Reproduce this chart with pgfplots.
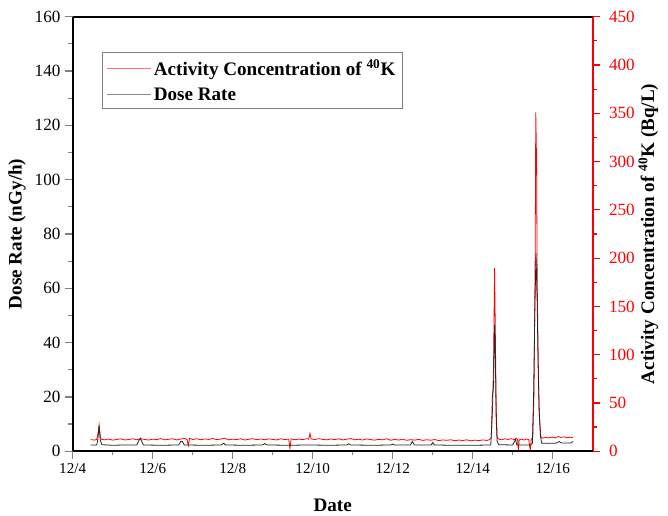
\documentclass[border=0pt]{standalone}
\usepackage{fontspec}
\setmainfont{Liberation Serif}
\usepackage{pgfplots}
\pgfplotsset{compat=1.18}

% activity concentration of 40K (Bq/L), day of December
\pgfplotstableread{
x act
4.45 12.0
4.55 11.6
4.60 12.3
4.63 18
4.66 27.5
4.69 15
4.72 12.4
4.80 11.8
4.90 12.6
5.00 11.5
5.10 12.2
5.20 12.8
5.30 11.7
5.40 12.1
5.50 12.9
5.60 11.9
5.70 13.0
5.80 12.2
5.90 11.6
6.00 12.5
6.10 12.0
6.20 13.1
6.30 11.8
6.40 12.4
6.50 12.9
6.60 11.7
6.70 12.6
6.80 13.3
6.86 12.0
6.89 6.0
6.92 13.4
7.00 12.1
7.10 13.0
7.20 11.9
7.30 12.7
7.40 12.2
7.50 13.2
7.60 12.0
7.70 12.6
7.80 13.4
7.90 11.8
8.00 12.5
8.10 12.1
8.20 12.9
8.30 11.6
8.40 12.4
8.50 13.0
8.60 12.0
8.70 12.7
8.80 11.9
8.90 12.8
9.00 12.2
9.10 11.7
9.20 12.9
9.30 12.1
9.40 12.5
9.43 3.0
9.46 12.8
9.55 11.9
9.65 12.6
9.75 12.0
9.85 13.0
9.90 12.4
9.93 18.5
9.96 12.8
10.05 12.1
10.15 13.0
10.25 12.3
10.35 11.8
10.45 12.7
10.55 12.0
10.65 12.9
10.75 11.7
10.85 12.5
10.95 13.1
11.05 11.9
11.15 12.4
11.25 11.6
11.35 12.8
11.45 12.0
11.55 11.5
11.65 12.3
11.75 11.8
11.85 12.9
11.95 11.4
12.05 12.2
12.15 11.6
12.25 12.5
12.35 11.3
12.45 12.0
12.55 11.5
12.65 12.3
12.75 11.2
12.85 11.9
12.95 11.4
13.05 12.1
13.15 11.0
13.25 11.7
13.35 11.3
13.45 11.9
13.55 10.9
13.65 11.6
13.75 11.1
13.85 11.8
13.95 10.8
14.05 11.5
14.15 11.0
14.25 11.7
14.35 11.2
14.42 12.0
14.46 14
14.49 40
14.52 90
14.545 190
14.565 120
14.585 45
14.61 14
14.65 12.5
14.72 11.8
14.80 12.9
14.88 12.2
14.96 13.0
15.04 12.0
15.08 13.5
15.12 12.2
15.14 0
15.16 11.8
15.22 12.5
15.28 11.6
15.34 12.7
15.40 12.0
15.44 0
15.46 12.3
15.50 14
15.53 60
15.56 200
15.575 351
15.595 300
15.61 180
15.63 110
15.66 40
15.70 15
15.75 13.6
15.82 14.2
15.90 13.8
15.98 14.6
16.06 13.9
16.14 15.2
16.20 14.3
16.28 14.8
16.36 14.0
16.44 14.5
16.51 14.1
}\acttable

% dose rate (nGy/h)
\pgfplotstableread{
x dose
4.45 2.3
4.60 2.3
4.63 4.5
4.66 9.3
4.69 4.0
4.73 2.4
5.00 2.2
5.30 2.3
5.60 2.3
5.65 3.8
5.69 4.8
5.73 3.5
5.77 2.3
6.20 2.2
6.65 2.3
6.70 3.6
6.74 3.6
6.79 2.3
7.30 2.2
7.72 2.3
7.77 3.0
7.82 2.3
8.30 2.2
8.75 2.3
8.80 2.8
8.86 2.3
9.40 2.2
9.90 2.3
10.40 2.2
10.85 2.3
10.90 2.7
10.95 2.3
11.50 2.2
11.95 2.3
12.00 2.6
12.05 2.3
12.44 2.3
12.49 3.6
12.54 2.3
12.96 2.3
13.00 3.2
13.04 2.3
13.50 2.2
14.00 2.2
14.45 2.3
14.47 8
14.49 20
14.52 24
14.545 46.5
14.565 35
14.585 12
14.61 3.5
14.65 2.4
15.00 2.3
15.04 3.5
15.07 4.4
15.10 2.3
15.45 2.3
15.49 3.0
15.52 20
15.55 50
15.58 73
15.61 55
15.635 30
15.66 15
15.69 6
15.72 3.0
15.90 2.9
16.10 3.0
16.16 3.6
16.22 3.0
16.45 3.0
16.51 3.6
}\dosetable

\pgfplotsset{
  common/.style={
    scale only axis, width=395pt, height=330pt,
    xmin=4, xmax=17,
    tick align=outside,
    major tick length=5.8pt, minor tick length=3.2pt,
    tick style={line width=0.9pt},
    axis line style={line width=1.4pt},
    xticklabel style={font=\fontsize{11.5}{13}\selectfont},
    yticklabel style={font=\fontsize{13}{15}\selectfont},
    label style={font=\bfseries\fontsize{14.5}{17}\selectfont},
    /pgf/number format/assume math mode=true,
  },
}

\begin{document}
\begin{tikzpicture}
% right axis: activity concentration (drawn first, so it sits under the dose trace)
\begin{axis}[
    common,
    axis y line*=right,
    axis x line*=top,
    xtick=\empty,
    ymin=0, ymax=450,
    ytick={0,50,...,450},
    minor y tick num=1,
    y axis line style={red},
    ytick style={red},
    yticklabel style={red, xshift=3pt},
    ylabel={Activity Concentration of \textsuperscript{40}K (Bq/L)},
    ylabel style={yshift=4pt},
]
\addplot[red, line width=0.6pt] table[x=x, y=act] {\acttable};
\end{axis}
% left axis: dose rate
\begin{axis}[
    common,
    axis y line*=left,
    axis x line*=bottom,
    ymin=0, ymax=160,
    ytick={0,20,...,160},
    minor y tick num=1,
    xtick={4,6,...,16},
    xticklabels={12/4,12/6,12/8,12/10,12/12,12/14,12/16},
    minor x tick num=1,
    xlabel={Date},
    ylabel={Dose Rate (nGy/h)},
    xlabel style={yshift=-12pt},
    legend cell align=left,
    legend style={at={(0.057,0.918)}, anchor=north west,
        font=\bfseries\fontsize{14.5}{16}\selectfont,
        draw=gray, line width=0.7pt, inner xsep=3pt, inner ysep=3pt,
        row sep=4pt},
    legend image code/.code={\draw[#1, line width=0.8pt] (0pt,0pt) -- (33pt,0pt);},
]
\addlegendimage{red!55}
\addlegendentry{Activity Concentration of \textsuperscript{40}K}
\addlegendimage{black!45}
\addlegendentry{Dose Rate}
\addplot[black!85, line width=0.6pt, forget plot] table[x=x, y=dose] {\dosetable};
\end{axis}
\path (current bounding box.north) -- ++(0,5pt);
\path (current bounding box.west) -- ++(-3pt,0);
\path (current bounding box.east) -- ++(4pt,0);
\end{tikzpicture}
\end{document}
